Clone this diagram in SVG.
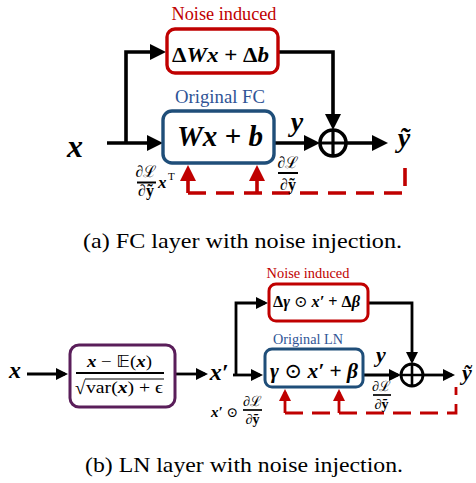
<svg xmlns="http://www.w3.org/2000/svg" width="476" height="483" viewBox="0 0 476 483">
<defs>
<style>
.bg{fill:#ffffff}
.ln{fill:none;stroke:#000;stroke-linejoin:miter}
.la{stroke-width:3.6}
.lb{stroke-width:2.8}
.red{fill:none;stroke:#c00000}
.ra{stroke-width:3.6}
.rb{stroke-width:2.8}
.dash-a{stroke-dasharray:18 10}
.dash-b{stroke-dasharray:18 9}
.box{fill:#fff}
.bred{stroke:#c00000}
.bblue{stroke:#1f4e79}
.bpur{stroke:#5a1e5a}
.serif{font-family:"Liberation Serif","DejaVu Serif",serif}
.math{font-family:"Liberation Serif","DejaVu Serif",serif;font-weight:bold;font-style:italic}
.up{font-style:normal}
.mth{font-family:"Liberation Serif","DejaVu Serif",serif}
.tred{fill:#c00000}
.tblue{fill:#2f5496}
.cap{font-family:"Liberation Serif",serif;font-size:21px;fill:#000}
</style>
<marker id="ahA" markerUnits="userSpaceOnUse" markerWidth="16" markerHeight="16" viewBox="0 0 16 16" refX="12" refY="8" orient="auto"><path d="M0,0 L16,8 L0,16 z" fill="#000"/></marker>
<marker id="ahB" markerUnits="userSpaceOnUse" markerWidth="12" markerHeight="12" viewBox="0 0 12 12" refX="9" refY="6" orient="auto"><path d="M0,0 L12,6 L0,12 z" fill="#000"/></marker>
<marker id="rhA" markerUnits="userSpaceOnUse" markerWidth="16" markerHeight="16" viewBox="0 0 16 16" refX="12" refY="8" orient="auto"><path d="M0,0 L16,8 L0,16 z" fill="#c00000"/></marker>
<marker id="rhB" markerUnits="userSpaceOnUse" markerWidth="12" markerHeight="12" viewBox="0 0 12 12" refX="9" refY="6" orient="auto"><path d="M0,0 L12,6 L0,12 z" fill="#c00000"/></marker>
</defs>
<rect class="bg" x="0" y="0" width="476" height="483"/>

<!-- ===== (a) connectors ===== -->
<g id="connectors-a">
<path class="ln la" d="M107 143 H159" marker-end="url(#ahA)"/>
<path class="ln la" d="M126 143 V52 H162" marker-end="url(#ahA)"/>
<path class="ln la" d="M278 52 H333 V126" marker-end="url(#ahA)"/>
<path class="ln la" d="M274 143 H316" marker-end="url(#ahA)"/>
<path class="ln la" d="M346 143 H384" marker-end="url(#ahA)"/>
<path class="red ra" d="M188 193 V169" marker-end="url(#rhA)"/>
<path class="red ra" d="M257 193 V169" marker-end="url(#rhA)"/>
<path class="red ra dash-a" d="M188 193 H405 V162"/>
</g>

<g id="sum-a">
<circle cx="333" cy="143" r="13" fill="#fff" stroke="#000" stroke-width="3.6"/>
<path d="M320 143 H346 M333 130 V156" stroke="#000" stroke-width="3.2"/>
</g>

<g id="noise-a">
<text class="serif tred" x="224" y="20" font-size="18.5" text-anchor="middle" textLength="105" lengthAdjust="spacingAndGlyphs">Noise induced</text>
<rect class="box bred" x="167" y="29" width="111" height="44" rx="8" stroke-width="3.4"/>
<text class="math" x="220.5" y="62" font-size="21" text-anchor="middle" textLength="97" lengthAdjust="spacingAndGlyphs"><tspan class="up">Δ</tspan>W<tspan>x</tspan><tspan class="up"> + Δ</tspan>b</text>
</g>

<g id="fc-a">
<text class="serif tblue" x="220" y="103" font-size="19" text-anchor="middle" textLength="90" lengthAdjust="spacingAndGlyphs">Original FC</text>
<rect class="box bblue" x="163" y="111" width="111" height="52" rx="9" stroke-width="3.4"/>
<text class="math" x="220" y="146" font-size="29" text-anchor="middle" textLength="86" lengthAdjust="spacingAndGlyphs">Wx<tspan class="up"> + </tspan>b</text>
</g>

<g id="labels-a">
<text class="math" x="75" y="157" font-size="32" text-anchor="middle">x</text>
<text class="math" x="297" y="131" font-size="28" text-anchor="middle">y</text>
<text class="math" x="404" y="147" font-size="28" text-anchor="middle">ỹ</text>
<text class="mth" x="146" y="177" font-size="16" text-anchor="middle">∂ℒ</text>
<line x1="137" y1="182.5" x2="156" y2="182.5" stroke="#000" stroke-width="2"/>
<text class="mth" x="146" y="196" font-size="16" text-anchor="middle">∂<tspan font-weight="bold">ỹ</tspan></text>
<text class="math" x="158" y="188" font-size="17">x</text>
<text class="mth" x="168" y="180" font-size="11">T</text>
<text class="mth" x="288" y="168" font-size="16" text-anchor="middle">∂ℒ</text>
<line x1="278" y1="173" x2="298" y2="173" stroke="#000" stroke-width="2"/>
<text class="mth" x="288" y="190" font-size="16" text-anchor="middle">∂<tspan font-weight="bold">ỹ</tspan></text>
</g>

<text class="cap" x="83" y="248" textLength="319" lengthAdjust="spacingAndGlyphs">(a) FC layer with noise injection.</text>

<!-- ===== (b) connectors ===== -->
<g id="connectors-b">
<path class="ln lb" d="M27 374 H65" marker-end="url(#ahB)"/>
<path class="ln lb" d="M175 374 H205" marker-end="url(#ahB)"/>
<path class="ln lb" d="M233 375 H260" marker-end="url(#ahB)"/>
<path class="ln lb" d="M236 375 V303 H265" marker-end="url(#ahB)"/>
<path class="ln lb" d="M368 303 H412 V361" marker-end="url(#ahB)"/>
<path class="ln lb" d="M363 375 H398" marker-end="url(#ahB)"/>
<path class="ln lb" d="M423 375 H452" marker-end="url(#ahB)"/>
<path class="red rb" d="M285 413 V392" marker-end="url(#rhB)"/>
<path class="red rb" d="M339 413 V392" marker-end="url(#rhB)"/>
<path class="red rb dash-b" d="M285 413 H456 V387"/>
</g>

<g id="sum-b">
<circle cx="412" cy="375" r="11" fill="#fff" stroke="#000" stroke-width="2.8"/>
<path d="M401 375 H423 M412 364 V386" stroke="#000" stroke-width="2.6"/>
</g>

<g id="norm-b">
<rect class="box bpur" x="70" y="345" width="105" height="62" rx="9" stroke-width="3"/>
<text class="math" x="119.5" y="367" font-size="16" text-anchor="middle" textLength="65" lengthAdjust="spacingAndGlyphs">x<tspan class="up" font-weight="normal"> − </tspan><tspan class="up" font-weight="normal" font-family="DejaVu Sans, sans-serif">𝔼</tspan><tspan class="up" font-weight="normal">(</tspan>x<tspan class="up" font-weight="normal">)</tspan></text>
<line x1="76" y1="373" x2="164" y2="373" stroke="#000" stroke-width="1.8"/>
<text class="mth" x="75" y="394" font-size="19">√</text>
<line x1="85" y1="379" x2="164" y2="379" stroke="#000" stroke-width="1.1"/>
<text class="mth" x="86" y="393" font-size="16" textLength="77" lengthAdjust="spacingAndGlyphs">var(<tspan font-weight="bold" font-style="italic">x</tspan>) + ϵ</text>
</g>

<g id="noise-b">
<text class="serif tred" x="308" y="278" font-size="14.5" text-anchor="middle" textLength="83" lengthAdjust="spacingAndGlyphs">Noise induced</text>
<rect class="box bred" x="269" y="284" width="99" height="37" rx="7" stroke-width="3"/>
<text class="math" x="316.5" y="307" font-size="16" text-anchor="middle" textLength="87" lengthAdjust="spacingAndGlyphs"><tspan class="up">Δ</tspan>γ<tspan class="up" font-weight="normal"> ⊙ </tspan>x′<tspan class="up"> + Δ</tspan>β</text>
</g>

<g id="ln-b">
<text class="serif tblue" x="308" y="344" font-size="14.5" text-anchor="middle" textLength="70" lengthAdjust="spacingAndGlyphs">Original LN</text>
<rect class="box bblue" x="265" y="349" width="98" height="38" rx="7" stroke-width="3"/>
<text class="math" x="314" y="378" font-size="21" text-anchor="middle" textLength="88" lengthAdjust="spacingAndGlyphs">γ<tspan class="up" font-weight="normal"> ⊙ </tspan>x′<tspan class="up"> + </tspan>β</text>
</g>

<g id="labels-b">
<text class="math" x="15" y="378" font-size="24" text-anchor="middle">x</text>
<text class="math" x="219" y="380" font-size="24" text-anchor="middle">x′</text>
<text class="math" x="381" y="362" font-size="22" text-anchor="middle">y</text>
<text class="math" x="467" y="380" font-size="22" text-anchor="middle">ỹ</text>
<text class="math" x="211" y="417" font-size="15">x′</text>
<text class="mth" x="232" y="417" font-size="14" text-anchor="middle">⊙</text>
<text class="mth" x="252.5" y="406" font-size="14" text-anchor="middle">∂ℒ</text>
<line x1="243" y1="410" x2="262" y2="410" stroke="#000" stroke-width="1.7"/>
<text class="mth" x="252.5" y="424" font-size="14" text-anchor="middle">∂<tspan font-weight="bold">ỹ</tspan></text>
<text class="mth" x="381.5" y="391" font-size="14" text-anchor="middle">∂ℒ</text>
<line x1="373" y1="395" x2="391" y2="395" stroke="#000" stroke-width="1.7"/>
<text class="mth" x="381.5" y="409" font-size="14" text-anchor="middle">∂<tspan font-weight="bold">ỹ</tspan></text>
</g>

<text class="cap" x="85" y="472" textLength="318" lengthAdjust="spacingAndGlyphs">(b) LN layer with noise injection.</text>
</svg>
